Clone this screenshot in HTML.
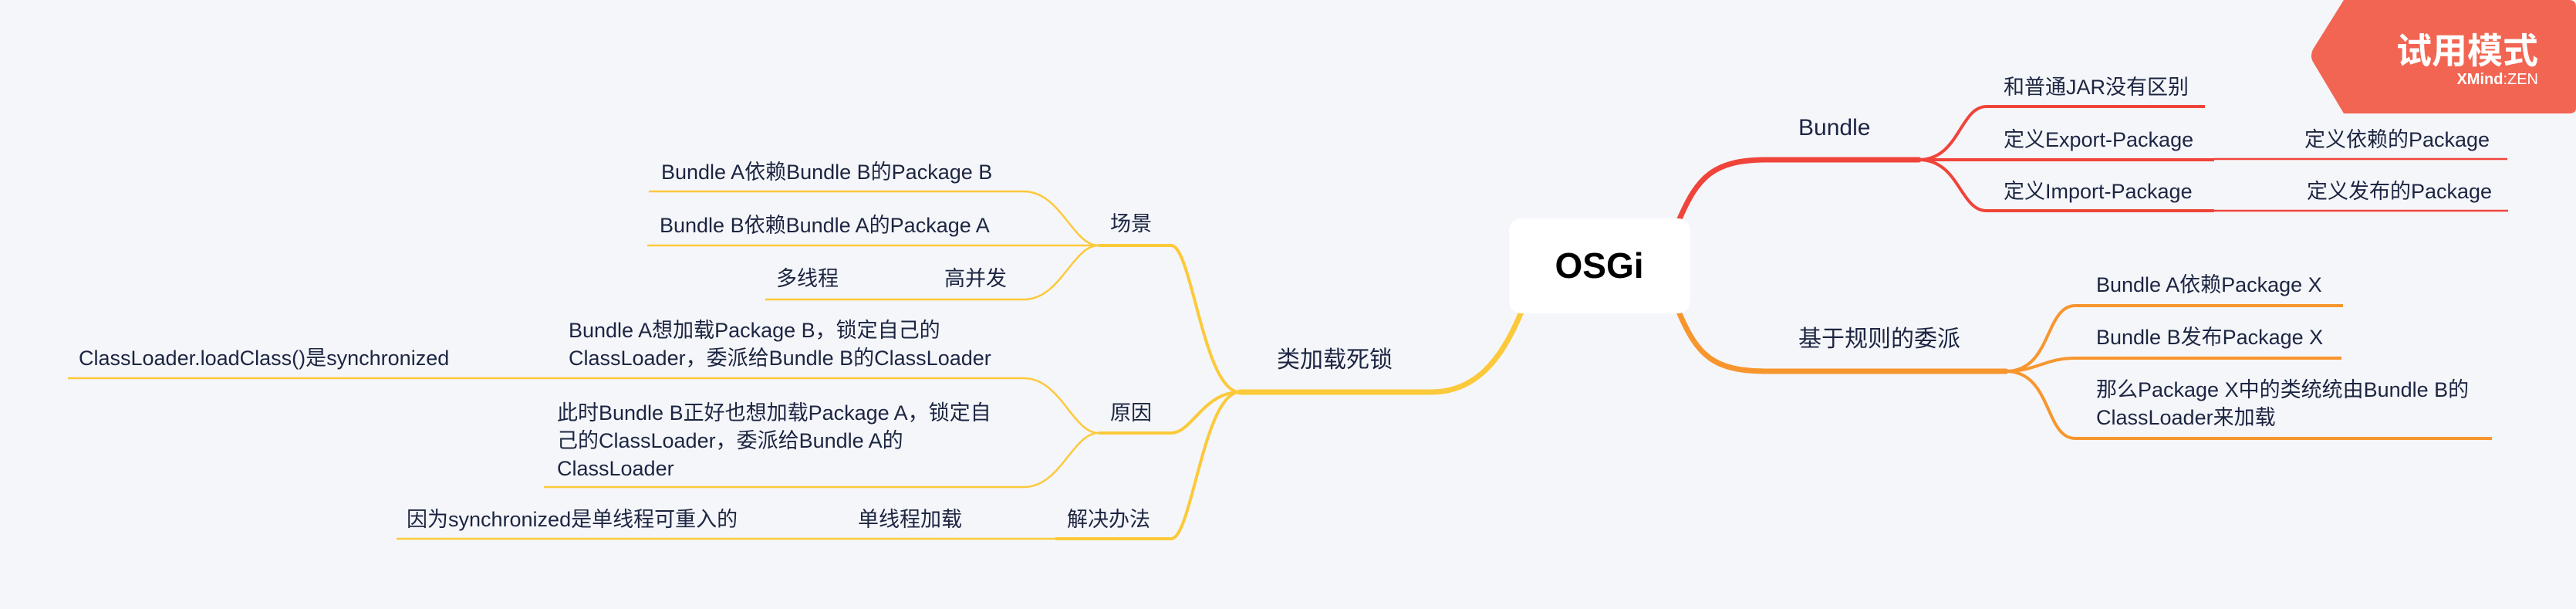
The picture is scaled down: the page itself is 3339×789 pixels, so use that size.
<!DOCTYPE html>
<html><head><meta charset="utf-8"><style>
html,body{margin:0;padding:0;background:#f5f6fa;}
svg{display:block;}
text{font-family:"Liberation Sans","Noto Sans CJK SC",sans-serif;fill:#1c2541;}
</style></head><body>
<svg width="3339" height="789" viewBox="0 0 3339 789" xmlns="http://www.w3.org/2000/svg">
<rect width="3339" height="789" fill="#f5f6fa"/>

<!-- watermark -->
<path d="M3038 0 H3330 Q3339 0 3339 9 V140 Q3339 147 3330 147 H3038 L2998 80 Q2994 73 2998 64 Z" fill="#f26552"/>
<text x="3290" y="82" text-anchor="end" style="font-size:46px;font-weight:bold;fill:#fff">试用模式</text>
<text x="3290" y="109" text-anchor="end" style="font-size:20px;font-weight:bold;fill:#fff">XMind<tspan style="font-weight:normal">:ZEN</tspan></text>

<!-- main branches -->
<g fill="none" stroke-linecap="round">
<path d="M2176 286 C2200 230 2220 207 2290 207 H2487" stroke="#f0443a" stroke-width="7"/>
<path d="M2176 404 C2200 460 2220 481 2290 481 H2600" stroke="#f7962e" stroke-width="7"/>
<path d="M1972 404 C1945 470 1910 508 1855 508 H1607" stroke="#fcc93a" stroke-width="7"/>
</g>

<!-- Bundle children -->
<g fill="none" stroke="#f0443a">
<path d="M2487 207 C2540 207 2540 138 2575 138 H2858" stroke-width="4"/>
<path d="M2487 207 H2870" stroke-width="4"/>
<path d="M2487 207 C2540 207 2540 273 2575 273 H2870" stroke-width="4"/>
<path d="M2870 206 H3250" stroke-width="2.5"/>
<path d="M2870 273 H3251" stroke-width="2.5"/>
</g>

<!-- rule children -->
<g fill="none" stroke="#f7962e" stroke-width="4">
<path d="M2600 481 C2660 481 2650 396 2690 396 H3037"/>
<path d="M2600 481 C2640 481 2650 464 2690 464 H3035"/>
<path d="M2600 481 C2660 481 2650 568 2690 568 H3230"/>
</g>

<!-- yellow -->
<g fill="none" stroke="#fcc93a">
<path d="M1607 508 C1560 508 1545 318 1518 318 H1424" stroke-width="4"/>
<path d="M1607 508 C1560 508 1545 561 1518 561 H1424" stroke-width="4"/>
<path d="M1607 508 C1560 508 1545 698 1518 698 H1368" stroke-width="4"/>
<path d="M1424 318 C1390 318 1375 248 1327 248 H841" stroke-width="2.5"/>
<path d="M1424 318 H839" stroke-width="2.5"/>
<path d="M1424 318 C1390 318 1375 388 1327 388 H992" stroke-width="2.5"/>
<path d="M1424 561 C1390 561 1375 490 1327 490 H88" stroke-width="2.5"/>
<path d="M1424 561 C1390 561 1375 631 1327 631 H705" stroke-width="2.5"/>
<path d="M1368 698 H514" stroke-width="2.5"/>
</g>

<!-- root -->
<rect x="1956" y="283" width="235" height="123" rx="16" fill="#fff"/>
<text x="2073" y="360" text-anchor="middle" style="font-size:46px;font-weight:bold;fill:#000">OSGi</text>

<!-- main labels -->
<g style="font-size:30px">
<text x="2331" y="175">Bundle</text>
<text x="2331" y="449">基于规则的委派</text>
<text x="1655" y="476">类加载死锁</text>
</g>

<g style="font-size:27px">
<text x="2597" y="122">和普通JAR没有区别</text>
<text x="2597" y="190">定义Export-Package</text>
<text x="2597" y="257">定义Import-Package</text>
<text x="2987" y="190">定义依赖的Package</text>
<text x="2990" y="257">定义发布的Package</text>
<text x="2717" y="378">Bundle A依赖Package X</text>
<text x="2717" y="446">Bundle B发布Package X</text>
<text x="2717" y="514">那么Package X中的类统统由Bundle B的</text>
<text x="2717" y="550">ClassLoader来加载</text>

<text x="1439" y="299">场景</text>
<text x="1439" y="544">原因</text>
<text x="1383" y="682">解决办法</text>
<text x="857" y="232">Bundle A依赖Bundle B的Package B</text>
<text x="855" y="301">Bundle B依赖Bundle A的Package A</text>
<text x="1006" y="370">多线程</text>
<text x="1224" y="370">高并发</text>
<text x="737" y="437">Bundle A想加载Package B，锁定自己的</text>
<text x="737" y="473">ClassLoader，委派给Bundle B的ClassLoader</text>
<text x="102" y="473">ClassLoader.loadClass()是synchronized</text>
<text x="722" y="544">此时Bundle B正好也想加载Package A，锁定自</text>
<text x="722" y="580">己的ClassLoader，委派给Bundle A的</text>
<text x="722" y="616">ClassLoader</text>
<text x="1112" y="682">单线程加载</text>
<text x="527" y="682">因为synchronized是单线程可重入的</text>
</g>
</svg>
</body></html>
